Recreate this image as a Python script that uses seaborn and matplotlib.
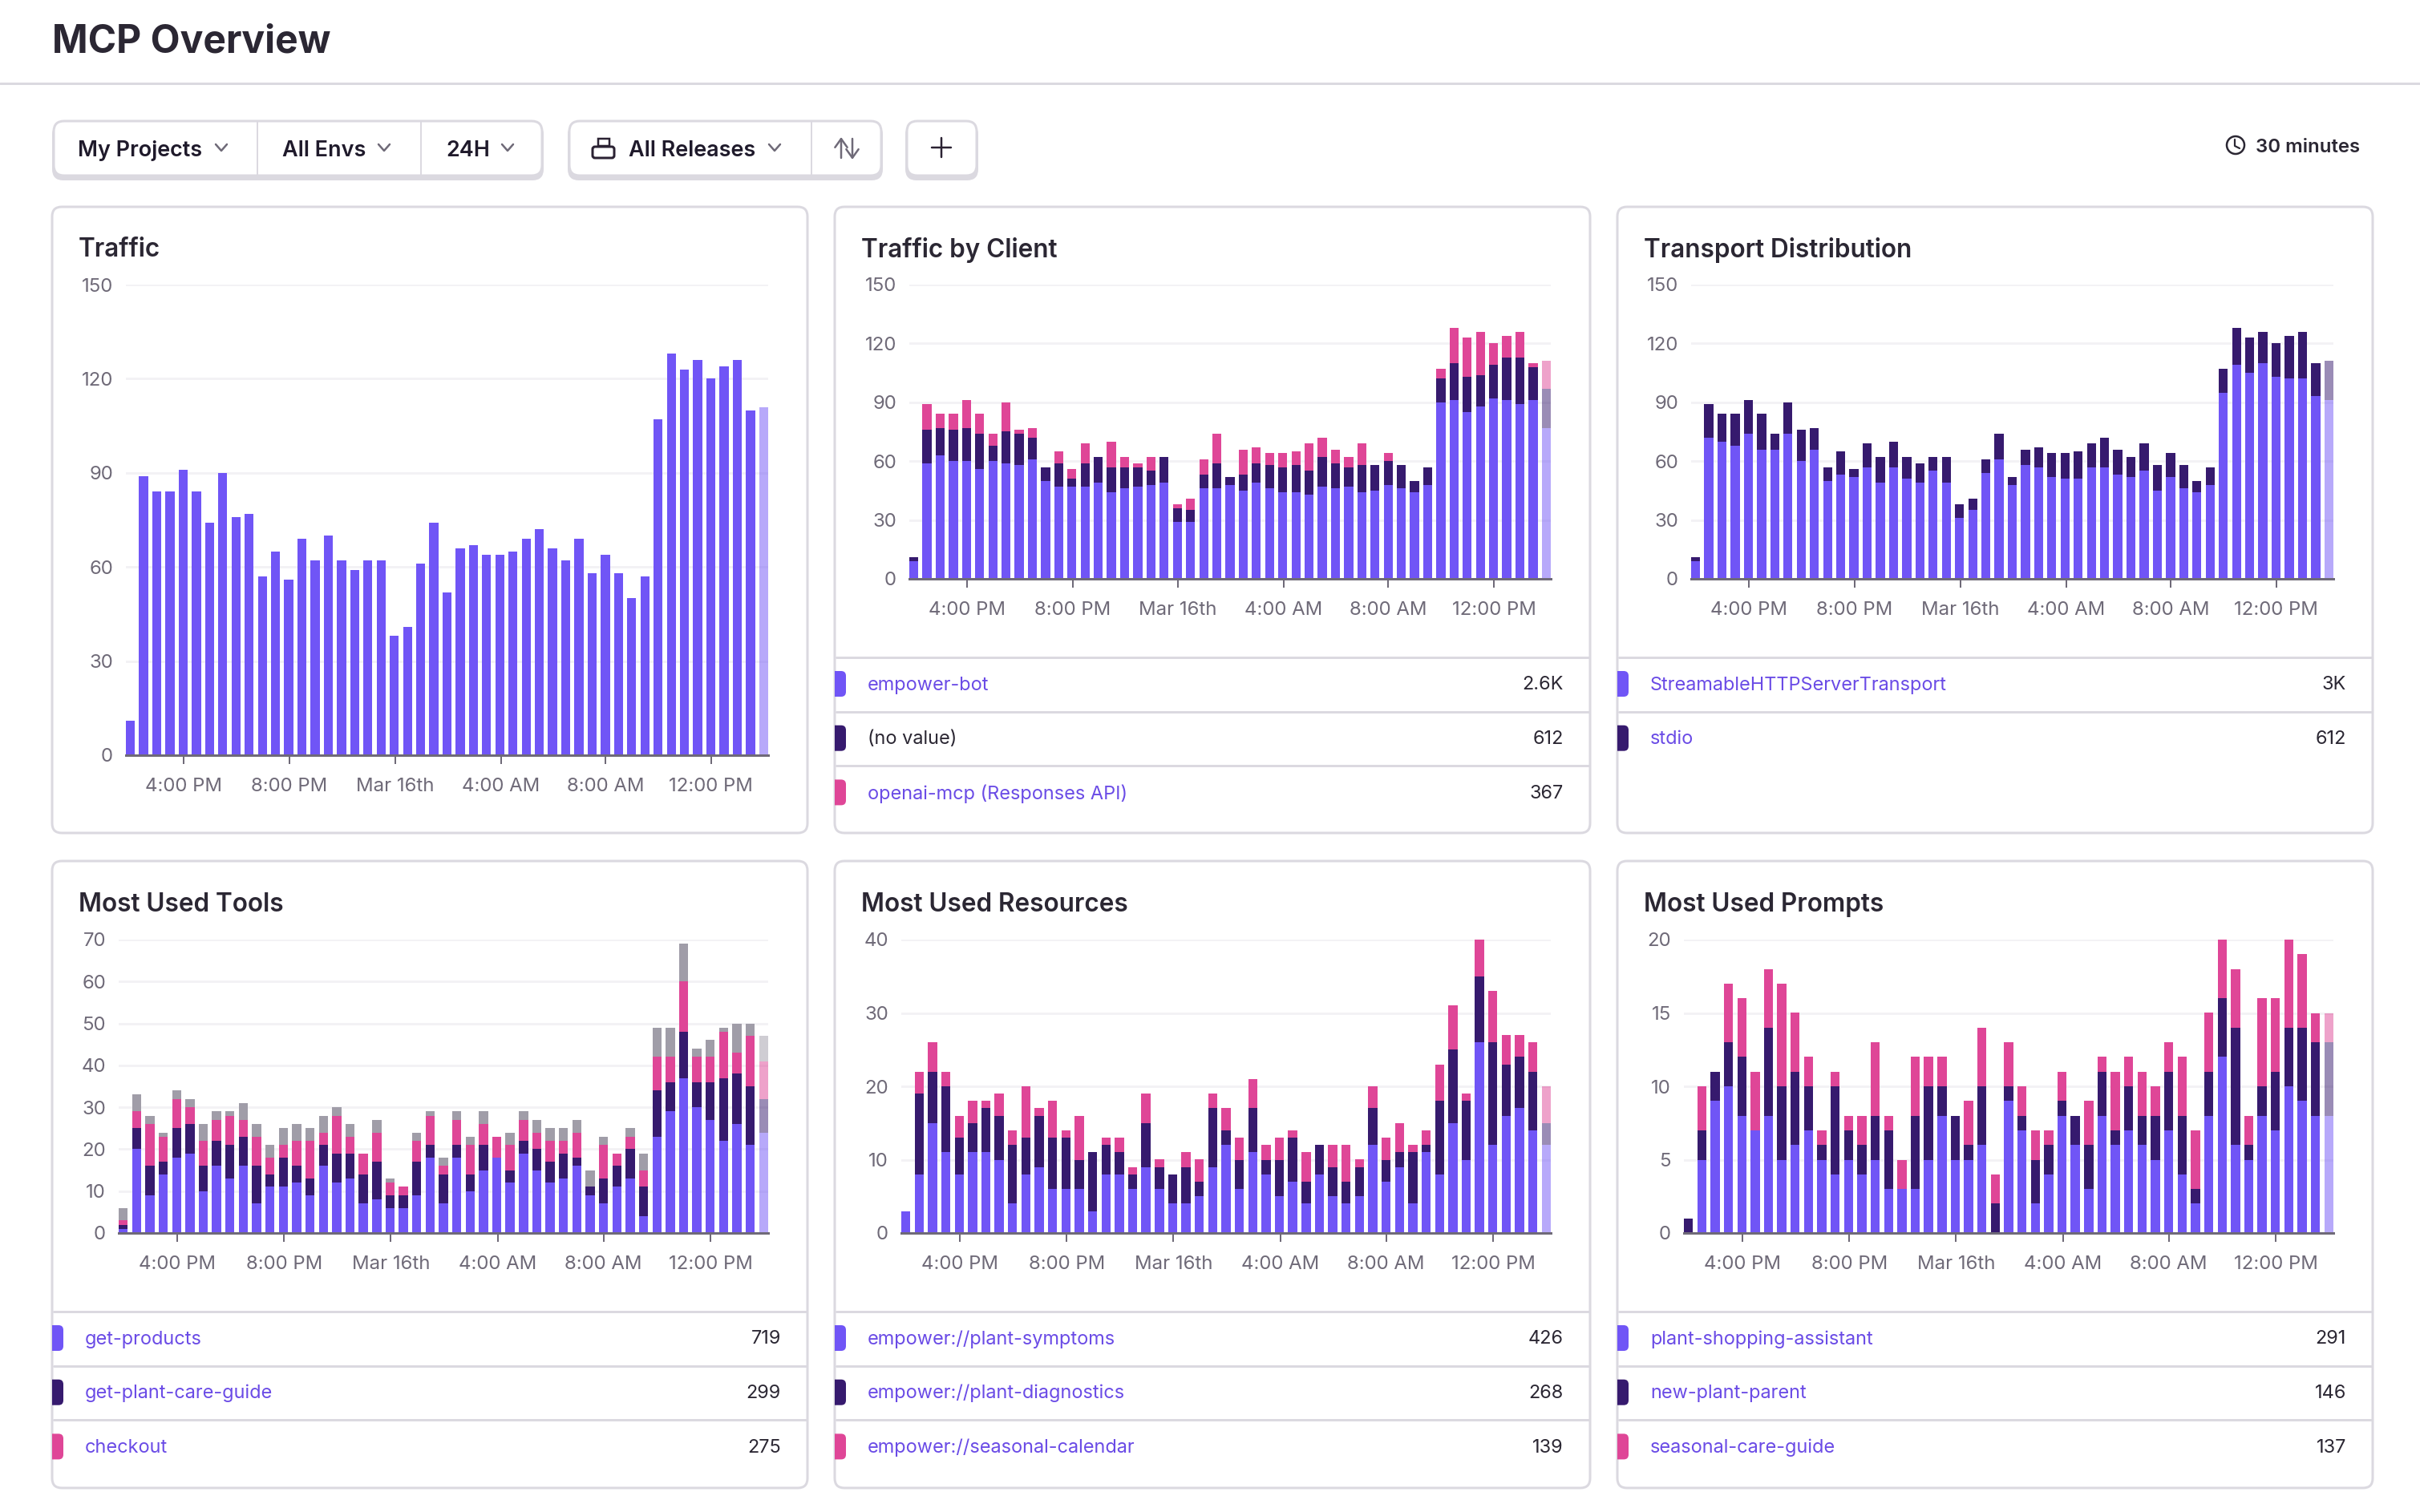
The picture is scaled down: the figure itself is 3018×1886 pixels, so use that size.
import pandas as pd
import matplotlib
matplotlib.use("Agg")
import matplotlib.pyplot as plt
from matplotlib.patches import FancyBboxPatch, Rectangle, Circle
from matplotlib.lines import Line2D
import seaborn as sns

W, H = 3018, 1886

# counts per 30 minute bucket
TRAFFIC = [11, 89, 84, 84, 91, 84, 74, 90, 76, 77, 57, 65, 56, 69, 62, 70, 62, 59, 62, 62, 38, 41, 61, 74, 52,
           66, 67, 64, 64, 65, 69, 72, 66, 62, 69, 58, 64, 58, 50, 57, 107, 128, 123, 126, 120, 124, 126, 110, 111]

EMPOWER_BOT = [9, 59, 63, 60, 60, 56, 60, 59, 58, 61, 50, 47, 47, 47, 49, 44, 46, 47, 48, 49, 29, 29, 46, 46, 48,
               45, 49, 46, 44, 44, 43, 47, 46, 47, 44, 45, 48, 46, 44, 48, 90, 91, 85, 88, 92, 91, 89, 91, 77]
NO_VALUE = [2, 17, 14, 16, 17, 18, 8, 16, 16, 11, 7, 12, 4, 12, 13, 13, 11, 10, 7, 13, 7, 6, 7, 13, 4,
            8, 10, 12, 13, 14, 12, 15, 13, 10, 14, 13, 12, 12, 6, 9, 12, 19, 18, 16, 17, 22, 24, 17, 20]
OPENAI_MCP = [0, 13, 7, 8, 14, 10, 6, 15, 2, 5, 0, 6, 5, 10, 0, 13, 5, 2, 7, 0, 2, 6, 8, 15, 0,
              13, 8, 6, 7, 7, 14, 10, 7, 5, 11, 0, 4, 0, 0, 0, 5, 18, 20, 22, 11, 11, 13, 2, 14]

HTTP_TRANSPORT = [9, 72, 70, 68, 74, 66, 66, 74, 60, 66, 50, 53, 52, 57, 49, 57, 51, 49, 55, 49, 31, 35, 54, 61, 48,
                  58, 57, 52, 51, 51, 57, 57, 53, 52, 55, 45, 52, 46, 44, 48, 95, 109, 105, 110, 103, 102, 102, 93, 91]
STDIO = [2, 17, 14, 16, 17, 18, 8, 16, 16, 11, 7, 12, 4, 12, 13, 13, 11, 10, 7, 13, 7, 6, 7, 13, 4,
         8, 10, 12, 13, 14, 12, 15, 13, 10, 14, 13, 12, 12, 6, 9, 12, 19, 18, 16, 17, 22, 24, 17, 20]

GET_PRODUCTS = [1, 20, 9, 14, 18, 19, 10, 16, 13, 16, 7, 11, 11, 12, 9, 16, 12, 13, 7, 8, 6, 6, 9, 18, 7,
                18, 10, 15, 18, 12, 19, 15, 12, 13, 16, 9, 7, 11, 13, 4, 23, 29, 37, 30, 27, 22, 26, 21, 24]
GET_PLANT_GUIDE = [1, 5, 7, 3, 7, 7, 6, 6, 8, 7, 9, 3, 7, 4, 4, 5, 7, 6, 7, 9, 3, 3, 8, 3, 7,
                   3, 4, 6, 0, 3, 3, 5, 5, 6, 2, 2, 6, 5, 7, 7, 11, 7, 11, 6, 9, 15, 12, 14, 8]
CHECKOUT = [1, 4, 10, 6, 7, 4, 6, 5, 7, 4, 7, 4, 3, 6, 9, 3, 9, 4, 5, 7, 3, 2, 5, 7, 2,
            6, 7, 5, 5, 6, 5, 4, 5, 3, 6, 0, 8, 3, 3, 4, 8, 6, 12, 6, 6, 11, 5, 12, 9]
OTHER_TOOLS = [3, 4, 2, 1, 2, 2, 4, 2, 1, 4, 3, 3, 4, 4, 3, 4, 2, 3, 0, 3, 1, 0, 2, 1, 2,
               2, 2, 3, 0, 3, 2, 3, 3, 3, 3, 4, 2, 0, 2, 4, 7, 7, 9, 2, 4, 1, 7, 3, 6]

PLANT_SYMPTOMS = [3, 8, 15, 11, 8, 11, 11, 10, 4, 8, 9, 6, 6, 6, 3, 8, 8, 6, 9, 6, 4, 4, 5, 9, 12,
                  6, 11, 8, 5, 7, 4, 8, 5, 4, 5, 12, 7, 9, 4, 11, 8, 15, 10, 26, 12, 16, 17, 14, 12]
PLANT_DIAGNOSTICS = [0, 11, 7, 9, 5, 4, 6, 6, 8, 5, 7, 7, 7, 4, 8, 4, 3, 2, 6, 3, 4, 5, 2, 8, 2,
                     4, 6, 2, 5, 6, 3, 4, 4, 3, 4, 5, 3, 2, 7, 1, 10, 10, 8, 9, 14, 7, 7, 8, 3]
SEASONAL_CALENDAR = [0, 3, 4, 2, 3, 3, 1, 3, 2, 7, 1, 5, 1, 6, 0, 1, 2, 1, 4, 1, 0, 2, 3, 2, 3,
                     3, 4, 2, 3, 1, 4, 0, 3, 5, 1, 3, 3, 4, 1, 2, 5, 6, 1, 5, 7, 4, 3, 4, 5]

SHOPPING_ASSISTANT = [0, 5, 9, 10, 8, 7, 8, 5, 6, 7, 5, 4, 5, 4, 5, 3, 3, 3, 5, 8, 5, 5, 6, 0, 9,
                      7, 2, 4, 8, 6, 3, 8, 6, 7, 6, 5, 7, 4, 2, 8, 12, 6, 5, 8, 7, 10, 9, 8, 8]
NEW_PLANT_PARENT = [1, 2, 2, 3, 4, 0, 6, 5, 5, 3, 1, 6, 2, 2, 3, 4, 0, 5, 5, 2, 3, 1, 4, 2, 1,
                    1, 3, 2, 1, 2, 3, 3, 1, 3, 2, 3, 4, 4, 1, 3, 4, 8, 1, 2, 4, 4, 5, 5, 5]
SEASONAL_GUIDE = [0, 3, 0, 4, 4, 4, 4, 7, 4, 2, 1, 1, 1, 2, 5, 1, 2, 4, 2, 2, 0, 3, 4, 2, 3,
                  2, 2, 1, 2, 0, 3, 1, 4, 2, 3, 2, 2, 4, 4, 4, 4, 4, 2, 6, 5, 6, 5, 2, 2]

TIME_TICKS = [4.04, 12.06, 20.05, 28.08, 36.0, 44.02]
TIME_LABELS = ["4:00 PM", "8:00 PM", "Mar 16th", "4:00 AM", "8:00 AM", "12:00 PM"]

BLUE, DARK, PINK, GRAY = "#7055F6", "#361A6E", "#DF4697", "#A09DA8"
BORDER = "#DBD9E0"
TEXT = "#2B2733"
MUTED = "#6F6A78"
LINK = "#6A4BE6"

sns.set_theme(style="white")
plt.rcParams["font.family"] = ["Inter", "DejaVu Sans"]


def px(n):
    # size in image pixels to points
    return n * 0.72


fig = plt.figure(figsize=(W / 100, H / 100), dpi=100, facecolor="white")

# page chrome lives on one full size axes in pixel coordinates
ui = fig.add_axes([0, 0, 1, 1])
ui.set_xlim(0, W)
ui.set_ylim(H, 0)
ui.axis("off")


def rounded(x0, y0, x1, y1, r=12, lw=3, ec=BORDER, fc="white", z=1):
    ui.add_patch(FancyBboxPatch((x0 + r, y0 + r), x1 - x0 - 2 * r, y1 - y0 - 2 * r,
                                boxstyle=f"round,pad={r},rounding_size={r}",
                                linewidth=px(lw), edgecolor=ec, facecolor=fc, zorder=z))


def label(x, y, s, size=24, color=TEXT, weight="normal", ha="left"):
    ui.text(x, y, s, fontsize=px(size), color=color, fontweight=weight, ha=ha, va="center_baseline", zorder=5)


def chevron(x, y):
    ui.plot([x - 7, x, x + 7], [y - 4, y + 4, y - 4], color=MUTED, lw=px(2.5), zorder=5)


# header
label(65, 47, "MCP Overview", size=48, weight="bold")
ui.add_line(Line2D([0, W], [104, 104], color=BORDER, lw=px(3)))

# filter buttons, thick bottom border
for x0, x1 in [(65, 678), (708, 1101), (1129, 1220)]:
    rounded(x0, 154, x1, 225, r=14, lw=0, ec="none", fc=BORDER, z=1)
    rounded(x0 + 2, 151, x1 - 2, 219, r=13, lw=3, ec=BORDER, fc="white", z=2)
for x in [321, 525, 1012]:
    ui.add_line(Line2D([x, x], [152, 219], color=BORDER, lw=px(2), zorder=3))
for x, s, cx in [(97, "My Projects", 276), (352, "All Envs", 479), (556, "24H", 633), (784, "All Releases", 966)]:
    label(x, 185, s, size=27, color="#1F1A2B", weight="semibold")
    chevron(cx, 184)

# release bag icon
ui.add_patch(FancyBboxPatch((741, 185), 23, 10, boxstyle="round,pad=2,rounding_size=3", fill=False,
                            ec="#2B2233", lw=px(3), zorder=5))
ui.add_patch(Rectangle((746, 173), 14, 9, fill=False, ec="#2B2233", lw=px(2.5), zorder=5))
# sort arrows
arrow = dict(arrowstyle="->,head_length=0.35,head_width=0.25", mutation_scale=22, color=MUTED, lw=px(2.5), shrinkA=0, shrinkB=0)
ui.annotate("", (1049, 171), (1049, 197), arrowprops=arrow, zorder=5)
ui.annotate("", (1063, 199), (1063, 173), arrowprops=arrow, zorder=5)
# plus
ui.plot([1162, 1186], [184, 184], color="#2B2233", lw=px(2.5), zorder=5)
ui.plot([1174, 1174], [172, 196], color="#2B2233", lw=px(2.5), zorder=5)

# refresh interval
ui.add_patch(Circle((2788, 181), 11, fill=False, ec=TEXT, lw=px(2.5), zorder=5))
ui.plot([2787, 2787, 2793], [174, 182, 185], color=TEXT, lw=px(2.2), zorder=5)
label(2813, 181, "30 minutes", size=24, weight="semibold")


def draw_card(box, plot_x, plot_y, title, title_y, series, colors, ymax, ystep, rows):
    x0, y0, x1, y1 = box
    rounded(x0, y0, x1, y1)
    label(x0 + 33, title_y, title, size=31.5, weight="semibold")

    ax = fig.add_axes([plot_x[0] / W, 1 - plot_y[1] / H, (plot_x[1] - plot_x[0]) / W, (plot_y[1] - plot_y[0]) / H])
    ax.patch.set_alpha(0)

    names = list(series)
    df = pd.DataFrame([(i, name, v) for name in names for i, v in enumerate(series[name])],
                      columns=["bucket", "name", "count"])
    # histplot stacks the last hue level at the bottom
    sns.histplot(data=df, x="bucket", weights="count", hue="name", hue_order=names[::-1],
                 palette=dict(zip(names, colors)), multiple="stack", discrete=True, shrink=0.685,
                 alpha=1, linewidth=0, legend=False, ax=ax)
    # the last bucket is still partial
    for p in ax.patches:
        if p.get_x() > 47.5:
            p.set_alpha(0.5)

    half = 0.3425
    ax.set_xlim(-half, 48 + half)
    ax.set_ylim(0, ymax)
    ax.set_yticks(range(0, ymax + 1, ystep))
    ax.set_xticks(TIME_TICKS)
    ax.set_xticklabels(TIME_LABELS)
    ax.set_xlabel("")
    ax.set_ylabel("")
    ax.grid(axis="y", color="#F3F2F5", lw=px(3))
    ax.set_axisbelow(True)
    sns.despine(ax=ax, left=True)
    ax.spines["bottom"].set_color(MUTED)
    ax.spines["bottom"].set_linewidth(px(3))
    ax.tick_params(axis="x", length=px(11), width=px(2), color=MUTED, labelcolor=MUTED,
                   labelsize=px(24), pad=px(17), bottom=True)
    ax.tick_params(axis="y", length=0, labelcolor=MUTED, labelsize=px(24), pad=px(16))

    # legend table under the chart
    sep0 = 820 if y0 < 500 else 1636
    for i, (name, value, linked) in enumerate(rows):
        top = sep0 + i * 67.7
        cy = top + 33
        ui.add_line(Line2D([x0 + 2, x1 - 2], [top, top], color=BORDER, lw=px(3), zorder=3))
        # swatch is flush with the card edge, only rounded on the right
        swatch = FancyBboxPatch((x0 - 8, cy - 13), 19, 26, boxstyle="round,pad=3,rounding_size=6",
                                linewidth=0, facecolor=colors[i], zorder=4)
        ui.add_patch(swatch)
        swatch.set_clip_path(Rectangle((x0, cy - 20), 30, 40, transform=ui.transData))
        label(x0 + 41, cy - 1, name, size=23.5, color=LINK if linked else TEXT)
        label(x1 - 33, cy - 1, value, size=23.5, ha="right")


TOP, BOTTOM = (258, 1039), (1074, 1856)
COL1, COL2, COL3 = (65, 1007), (1041, 1983), (2017, 2959)
TOP_Y, BOT_Y = (355, 722), (1172, 1538)
FOUR = [BLUE, DARK, PINK, GRAY]

draw_card((COL1[0], TOP[0], COL1[1], TOP[1]), (157, 958), (355, 942), "Traffic", 308,
          {"traffic": TRAFFIC}, FOUR, 150, 30, [])
draw_card((COL2[0], TOP[0], COL2[1], TOP[1]), (1134, 1934), TOP_Y, "Traffic by Client", 308,
          {"empower-bot": EMPOWER_BOT, "(no value)": NO_VALUE, "openai-mcp (Responses API)": OPENAI_MCP},
          FOUR, 150, 30,
          [("empower-bot", "2.6K", True), ("(no value)", "612", False), ("openai-mcp (Responses API)", "367", True)])
draw_card((COL3[0], TOP[0], COL3[1], TOP[1]), (2109, 2910), TOP_Y, "Transport Distribution", 308,
          {"StreamableHTTPServerTransport": HTTP_TRANSPORT, "stdio": STDIO},
          FOUR, 150, 30,
          [("StreamableHTTPServerTransport", "3K", True), ("stdio", "612", True)])
draw_card((COL1[0], BOTTOM[0], COL1[1], BOTTOM[1]), (148, 958), BOT_Y, "Most Used Tools", 1125,
          {"get-products": GET_PRODUCTS, "get-plant-care-guide": GET_PLANT_GUIDE, "checkout": CHECKOUT, "other": OTHER_TOOLS},
          FOUR, 70, 10,
          [("get-products", "719", True), ("get-plant-care-guide", "299", True), ("checkout", "275", True)])
draw_card((COL2[0], BOTTOM[0], COL2[1], BOTTOM[1]), (1124, 1934), BOT_Y, "Most Used Resources", 1125,
          {"empower://plant-symptoms": PLANT_SYMPTOMS, "empower://plant-diagnostics": PLANT_DIAGNOSTICS,
           "empower://seasonal-calendar": SEASONAL_CALENDAR},
          FOUR, 40, 10,
          [("empower://plant-symptoms", "426", True), ("empower://plant-diagnostics", "268", True),
           ("empower://seasonal-calendar", "139", True)])
draw_card((COL3[0], BOTTOM[0], COL3[1], BOTTOM[1]), (2100, 2910), BOT_Y, "Most Used Prompts", 1125,
          {"plant-shopping-assistant": SHOPPING_ASSISTANT, "new-plant-parent": NEW_PLANT_PARENT,
           "seasonal-care-guide": SEASONAL_GUIDE},
          FOUR, 20, 5,
          [("plant-shopping-assistant", "291", True), ("new-plant-parent", "146", True),
           ("seasonal-care-guide", "137", True)])

fig.savefig("out.png", dpi=100, facecolor="white")
